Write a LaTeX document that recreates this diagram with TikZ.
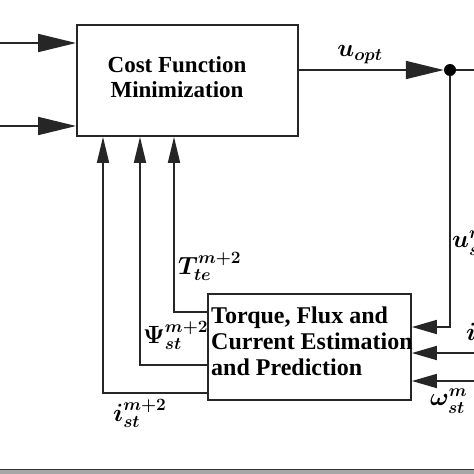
\documentclass[tikz,border=0pt]{standalone}
\usepackage{fontspec}
\setmainfont{Liberation Serif}
\usepackage{amsmath}
\usetikzlibrary{arrows.meta}
\begin{document}
\begin{tikzpicture}[x=1pt,y=-1pt,
  wire/.style={line width=1.8pt,draw=black!85},
  bigarrow/.style={wire,-{Triangle[length=38pt,width=18pt]}},
  uparrow/.style={wire,-{Triangle[length=26pt,width=12pt]}},
  smallarrow/.style={wire,-{Triangle[length=25pt,width=14pt]}},
  blk/.style={draw=black!85,line width=1.8pt,rectangle,inner sep=0pt},
  blktext/.style={font=\bfseries\fontsize{23}{25}\selectfont,align=center,inner sep=0pt},
  lbl/.style={font=\boldmath\fontsize{24}{24}\selectfont,inner sep=0pt}]
\useasboundingbox (0,0) rectangle (474,474);
% blocks
\node[blk,minimum width=221pt,minimum height=111pt] (cost) at (187.5,80.5) {};
\node[blktext] (costtxt) at (177,77) {Cost Function\\Minimization};
\node[blk,minimum width=203pt,minimum height=106pt] (est) at (309.5,347) {};
\node[blktext,font=\bfseries\fontsize{24}{26}\selectfont,align=left,anchor=west] (esttxt) at (211,341) {Torque, Flux and\\Current Estimation\\and Prediction};
% dot
\node[circle,fill=black,inner sep=0pt,minimum size=12pt] (dot) at (450,70) {};
% coordinates
\coordinate (in1) at (0,43);
\coordinate (in2) at (0,126);
\coordinate (uo) at (298,70);
\coordinate (outR) at (474,70);
\coordinate (k1) at (450,327);
\coordinate (r2) at (474,353);
\coordinate (r3) at (474,381);
\coordinate (f1) at (174,312);
\coordinate (f2) at (140,365);
\coordinate (f3) at (103,393);
% connectors
\draw[bigarrow] (in1) -- (in1 -| cost.west);
\draw[bigarrow] (in2) -- (in2 -| cost.west);
\draw[bigarrow] (uo -| cost.east) -- (dot);
\draw[wire] (dot) -- (outR);
\draw[smallarrow] (dot) -- (k1) -- (k1 -| est.east);
\draw[smallarrow] (r2) -- (r2 -| est.east);
\draw[smallarrow] (r3) -- (r3 -| est.east);
\draw[uparrow] (f1 -| est.west) -- (f1) -- (f1 |- cost.south);
\draw[uparrow] (f2 -| est.west) -- (f2) -- (f2 |- cost.south);
\draw[uparrow] (f3 -| est.west) -- (f3) -- (f3 |- cost.south);
% labels
\node[lbl] (luopt) at (360,55) {$u_{opt}$};
\node[lbl,anchor=west] (lus) at (452,243) {$u^{m}_{st}$};
\node[lbl,anchor=west] (lis) at (466,336) {$i^{m}_{st}$};
\node[lbl,anchor=west] (lws) at (430,401) {$\omega^{m}_{st}$};
\node[lbl,anchor=west] (lT) at (178,266) {$T^{m+2}_{te}$};
\node[lbl,anchor=west] (lP) at (143,335) {$\Psi^{m+2}_{st}$};
\node[lbl,anchor=west] (lI) at (113,413) {$i^{m+2}_{st}$};
% bottom bar
\fill[gray!70] (0,469) rectangle (474,474);
\draw[gray!40!black,line width=0.8pt] (0,469.4) -- (474,469.4);
\end{tikzpicture}
\end{document}
